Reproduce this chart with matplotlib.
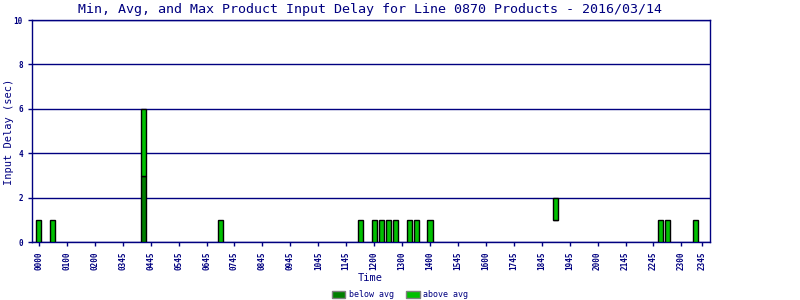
import matplotlib
matplotlib.use("Agg")
import matplotlib.pyplot as plt
from matplotlib.patches import Patch

# 15-minute slots over the day (96 slots), only a few have data
slots = [0, 2, 15, 26, 46, 48, 49, 50, 51, 53, 54, 56, 74, 89, 90, 94]
min_delay = [0, 0, 0, 0, 0, 0, 0, 0, 0, 0, 0, 0, 1, 0, 0, 0]
avg_delay = [0, 0, 3, 0, 0, 0, 0, 0, 0, 0, 0, 0, 1, 0, 0, 0]
max_delay = [1, 1, 6, 1, 1, 1, 1, 1, 1, 1, 1, 1, 2, 1, 1, 1]

tick_slots = list(range(0, 93, 4)) + [95]
tick_labels = ['0000', '0100', '0200', '0345', '0445', '0545', '0645', '0745',
               '0845', '0945', '1045', '1145', '1200', '1300', '1400', '1545',
               '1600', '1745', '1845', '1945', '2000', '2145', '2245', '2300',
               '2345']

navy = '#000080'
dark_green = '#008000'
light_green = '#00c000'
plt.rcParams['font.family'] = ['DejaVu Sans Mono']

fig = plt.figure(figsize=(8, 3), dpi=100)
ax = fig.add_axes([0.04, 0.193, 0.8475, 0.74])

below_h = [a - m for a, m in zip(avg_delay, min_delay)]
above_h = [x - a for x, a in zip(max_delay, avg_delay)]
ax.bar(slots, below_h, bottom=min_delay, width=0.72, color=dark_green,
       edgecolor='black', linewidth=1, zorder=3)
ax.bar(slots, above_h, bottom=avg_delay, width=0.72, color=light_green,
       edgecolor='black', linewidth=1, zorder=3)

ax.set_xlim(-1.0, 96.1)
ax.set_ylim(0, 10)
ax.set_yticks([0, 2, 4, 6, 8, 10])
ax.set_xticks(tick_slots)
ax.set_xticklabels(tick_labels, rotation=90)
ax.tick_params(axis='both', colors=navy, labelsize=5.5, length=3, width=1)
for lab in ax.get_xticklabels() + ax.get_yticklabels():
    lab.set_fontweight('bold')
ax.grid(True, axis='y', color=navy, linewidth=1, zorder=1)
for s in ax.spines.values():
    s.set_color(navy)
    s.set_linewidth(1)

fig.text(0.4625, 0.97, 'Min, Avg, and Max Product Input Delay for Line 0870 Products - 2016/03/14',
         color=navy, fontsize=9.6, ha='center', va='center')
fig.text(0.4625, 0.073, 'Time', color=navy, fontsize=7.5, ha='center', va='center')
fig.text(0.011, 0.56, 'Input Delay (sec)', color=navy, fontsize=7.5,
         ha='center', va='center', rotation=90)

handles = [Patch(facecolor=dark_green, edgecolor='gray', label='below avg'),
           Patch(facecolor=light_green, edgecolor='gray', label='above avg')]
leg = fig.legend(handles=handles, loc='center', bbox_to_anchor=(0.5, 0.018),
                 ncol=2, frameon=False, fontsize=6, handlelength=1.6,
                 handleheight=1.0, columnspacing=1.5, handletextpad=0.4)
for t in leg.get_texts():
    t.set_color(navy)

fig.savefig('out.png', dpi=100)
